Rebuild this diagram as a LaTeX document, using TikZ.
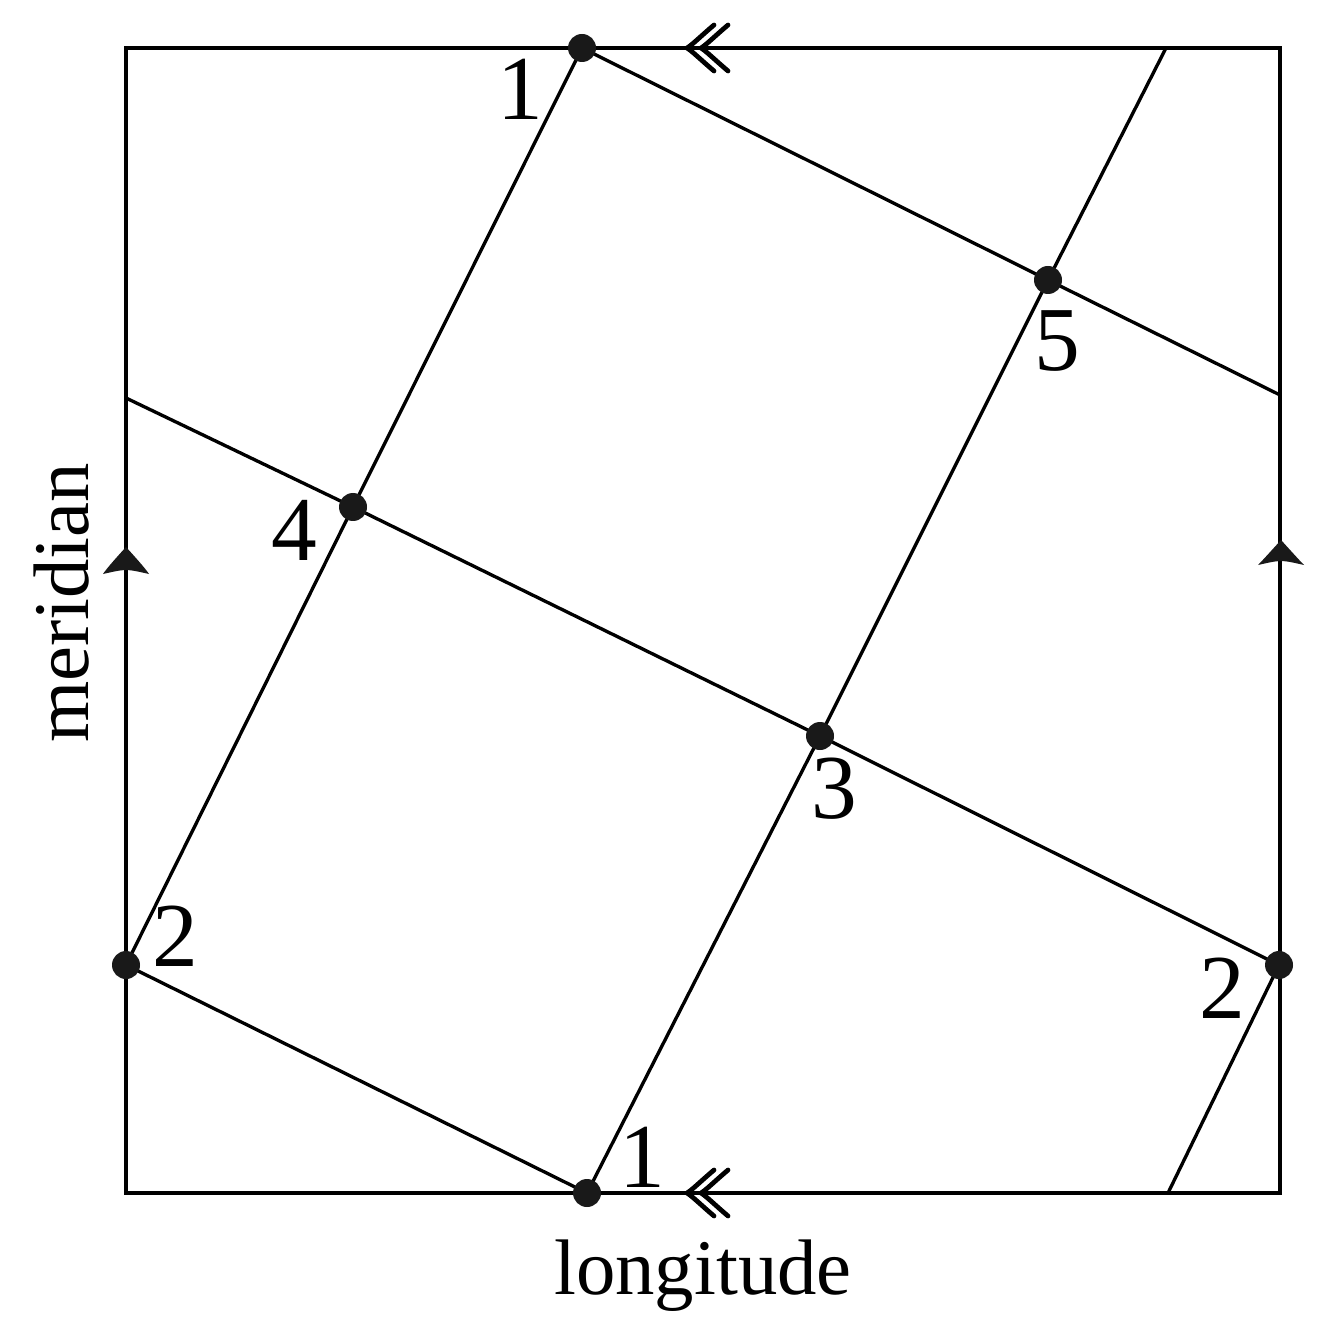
\documentclass[tikz,border=0pt]{standalone}
\usepackage{fontspec}
\setmainfont{Liberation Serif}
\begin{document}
\begin{tikzpicture}[x=0.01cm,y=-0.01cm,
  edge/.style={line width=0.95pt, line cap=round},
  dotpt/.style={circle, fill=black!90, inner sep=0pt, minimum size=28*0.01cm},
  num/.style={inner sep=0pt, font=\fontsize{26}{30}\selectfont},
  lbl/.style={inner sep=0pt, font=\fontsize{22.4}{26}\selectfont},
  chev/.style={line width=1.35pt, line cap=round}]
\useasboundingbox (0,0) rectangle (1329,1337);
% frame corners
\coordinate (TL) at (126,48);
\coordinate (TR) at (1280,48);
\coordinate (BR) at (1280,1193);
\coordinate (BL) at (126,1193);
% points
\coordinate (p1t) at (582,48);
\coordinate (p1b) at (587,1193);
\coordinate (p2l) at (126,965);
\coordinate (p2r) at (1279,965);
\coordinate (p4) at (353,507);
\coordinate (p3) at (820,736);
\coordinate (p5) at (1048,280);
\coordinate (eL) at (126,398);
\coordinate (eR) at (1280,395);
\coordinate (eT) at (1166,48);
\coordinate (eB) at (1168,1193);
% frame
\draw[edge] (TL) -- (TR) -- (BR) -- (BL) -- cycle;
% grid lines
\draw[edge] (p1t) -- (p4) -- (p2l);
\draw[edge] (p1t) -- (p5) -- (eR);
\draw[edge] (eL) -- (p4) -- (p3) -- (p2r);
\draw[edge] (eT) -- (p5) -- (p3) -- (p1b);
\draw[edge] (p2l) -- (p1b);
\draw[edge] (p2r) -- (eB);
% dots
\foreach \p in {p1t,p1b,p2l,p2r,p3,p4,p5} \node[dotpt] (d\p) at (\p) {};
% double chevrons (top and bottom), pointing left
\foreach \yy in {48,1193}{
  \foreach \xx in {687,701}{
    \draw[chev] (\xx+27,\yy-23) .. controls (\xx+14,\yy-12) and (\xx+5,\yy-3) .. (\xx,\yy)
                 .. controls (\xx+5,\yy+3) and (\xx+14,\yy+12) .. (\xx+27,\yy+23);
  }
}
% filled arrowheads on vertical sides, pointing up
\fill[black!90] (126,547) .. controls (116,558) and (107,568) .. (103,574)
   .. controls (112,572) and (120,570) .. (126,570)
   .. controls (132,570) and (140,572) .. (149,574)
   .. controls (145,568) and (136,558) .. (126,547) -- cycle;
\fill[black!90] (1281,540) .. controls (1271,551) and (1262,561) .. (1258,565)
   .. controls (1267,563) and (1275,561) .. (1281,561)
   .. controls (1287,561) and (1295,563) .. (1304,565)
   .. controls (1300,561) and (1291,551) .. (1281,540) -- cycle;
% labels
\node[num] (l1t) at (520,89) {1};
\node[num] (l1b) at (642,1157) {1};
\node[num] (l2l) at (175,936) {2};
\node[num] (l2r) at (1222,988) {2};
\node[num] (l4) at (294,530) {4};
\node[num] (l3) at (834,789) {3};
\node[num] (l5) at (1057,341) {5};
\node[lbl] (lon) at (703,1276) {longitude};
\node[lbl, rotate=90] (mer) at (62,603) {meridian};
\end{tikzpicture}
\end{document}
